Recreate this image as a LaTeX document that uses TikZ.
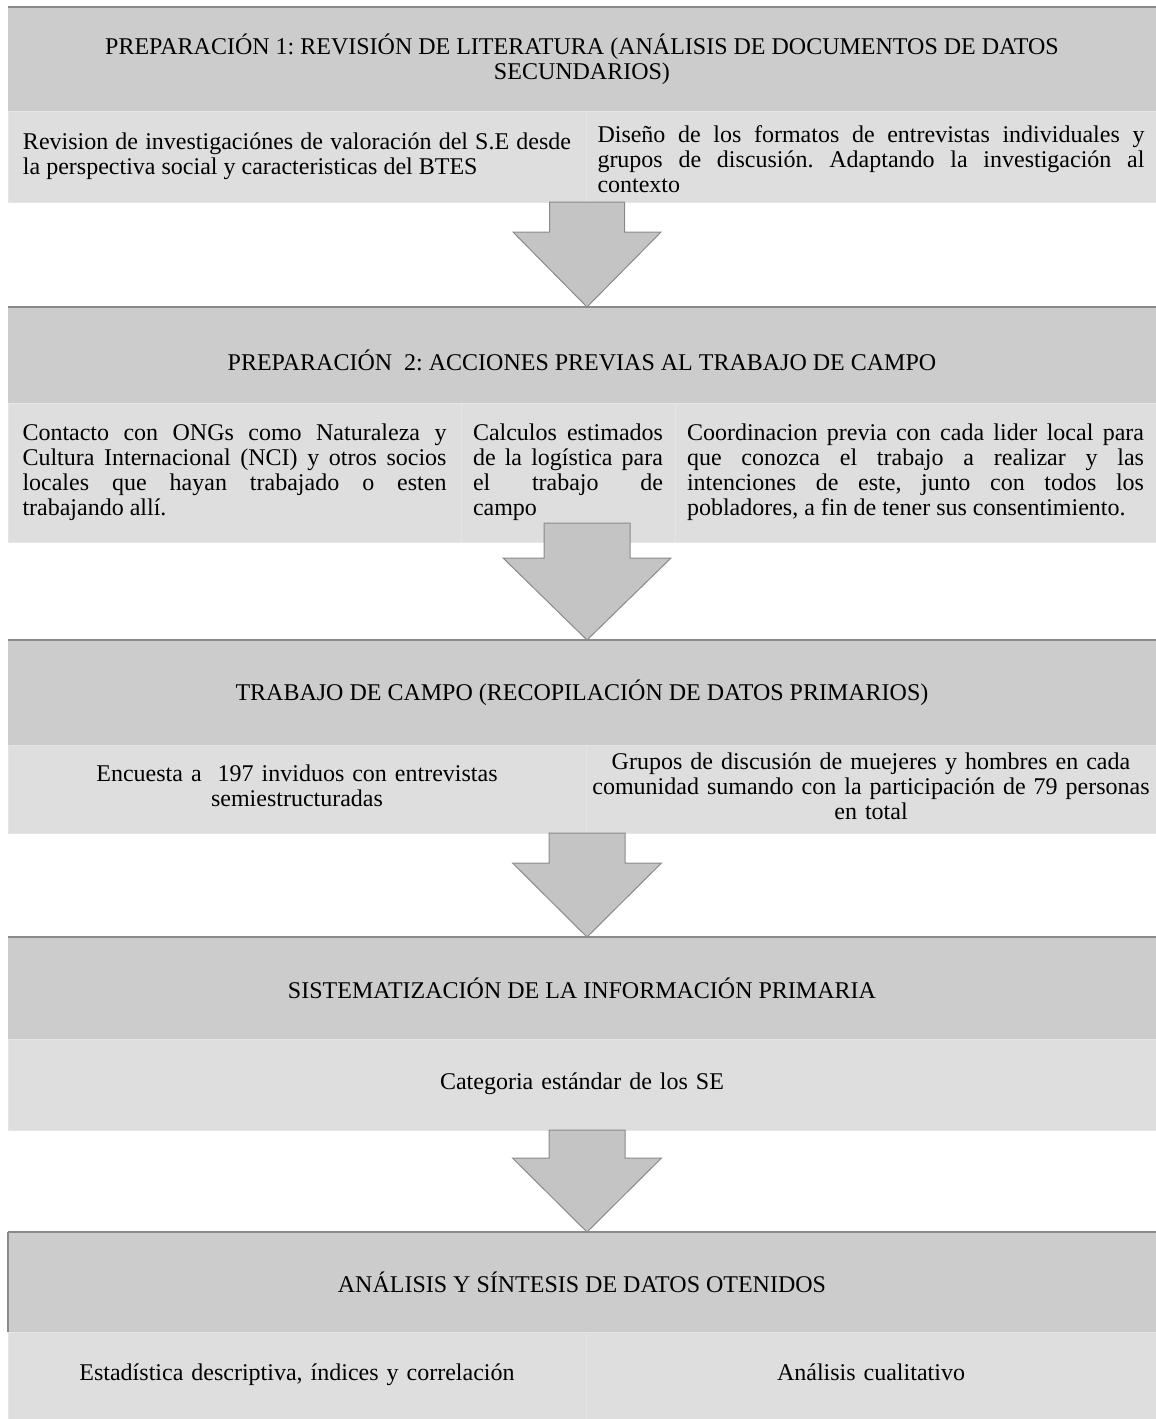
\documentclass[tikz,border=0pt]{standalone}
\usepackage{fontspec}
\setmainfont{Liberation Serif}
\usetikzlibrary{positioning,calc}
\definecolor{clHead}{HTML}{CCCCCC}
\definecolor{clBody}{HTML}{DEDEDE}
\definecolor{clSeam}{HTML}{E5E5E5}
\definecolor{clArrow}{HTML}{C4C4C4}
\definecolor{clEdge}{HTML}{8A8A8A}
\newcommand{\cellfont}{\fontsize{24}{25}\selectfont\frenchspacing\hyphenpenalty=10000\tolerance=10000\hbadness=10000}
% block arrow: start, target node, head length, shaft half width, head half width
\newcommand{\flowarrow}[5]{%
  \draw[blockarrow]
    ($(#1 -| axis)+(-#4,0)$) -- ($(#2.north -| axis)+(-#4,-#3)$)
    -- ($(#2.north -| axis)+(-#5,-#3)$) -- (#2.north -| axis)
    -- ($(#2.north -| axis)+(#5,-#3)$) -- ($(#2.north -| axis)+(#4,-#3)$)
    -- ($(#1 -| axis)+(#4,0)$) -- cycle;}
\tikzset{
  stage/.style={rectangle, fill=clHead, minimum width=1148pt, inner sep=0pt,
                outer sep=0pt, align=center, font=\cellfont},
  cell/.style={rectangle, fill=clBody, draw=clSeam, line width=0.8pt, inner sep=0pt,
               outer sep=0pt, align=justify, font=\cellfont,
               execute at begin node=\strut, execute at end node=\strut},
  cellmid/.style={cell, align=center},
  stageline/.style={draw=clEdge, line width=1.2pt},
  blockarrow/.style={fill=clArrow, draw=clEdge, line width=1pt, line join=miter},
}
\begin{document}
\begin{tikzpicture}[x=1pt, y=-1pt]
  \useasboundingbox (0,0) rectangle (1156,1419);
  \coordinate (axis) at (587,0);

  % preparacion 1
  \node[stage, minimum height=104pt, anchor=north west] (h1) at (8,7)
    {PREPARACIÓN 1: REVISIÓN DE LITERATURA (ANÁLISIS DE DOCUMENTOS DE DATOS\\ SECUNDARIOS)};
  \node[cell, minimum width=578pt, minimum height=91pt, text width=548pt,
        below right=0pt of h1.south west] (c11)
    {Revision de investigaciónes de valoración del S.E desde\linebreak la perspectiva social y caracteristicas del BTES};
  \node[cell, minimum width=570pt, minimum height=91pt, text width=547pt,
        execute at begin node={\rule{0pt}{29.5pt}}, right=0pt of c11] (c12)
    {Diseño de los formatos de entrevistas individuales y\linebreak grupos de discusión. Adaptando la investigación al\linebreak contexto};

  % preparacion 2
  \node[stage, minimum height=96pt, text height=32pt, anchor=north west] (h2) at (8,307)
    {PREPARACIÓN\ \ 2: ACCIONES PREVIAS AL TRABAJO DE CAMPO};
  \node[cell, minimum width=453pt, minimum height=139pt, text width=424pt,
        below right=0pt of h2.south west] (c21)
    {Contacto con ONGs como Naturaleza y\linebreak Cultura Internacional (NCI) y otros socios\linebreak locales que hayan trabajado o esten\linebreak trabajando allí.};
  \node[cell, minimum width=214pt, minimum height=139pt, text width=190pt,
        right=0pt of c21] (c22)
    {Calculos estimados\linebreak de la logística para\linebreak el trabajo de\linebreak campo};
  \node[cell, minimum width=481pt, minimum height=139pt, text width=457pt,
        right=0pt of c22] (c23)
    {Coordinacion previa con cada lider local para\linebreak que conozca el trabajo a realizar y las\linebreak intenciones de este, junto con todos los\linebreak pobladores, a fin de tener sus consentimiento.};
  \coordinate (cut2) at ($(c21.south)+(0,-19)$);

  % trabajo de campo
  \node[stage, minimum height=105pt, anchor=north west] (h3) at (8,640)
    {TRABAJO DE CAMPO (RECOPILACIÓN DE DATOS PRIMARIOS)};
  \node[cellmid, minimum width=578pt, minimum height=88pt, text width=548pt,
        below right=0pt of h3.south west] (c31)
    {Encuesta a\ \ 197 inviduos con entrevistas\\ semiestructuradas};
  \node[cellmid, minimum width=570pt, minimum height=88pt, text width=562pt,
        right=0pt of c31] (c32)
    {Grupos de discusión de muejeres y hombres en cada\\ comunidad sumando con la participación de 79 personas\\ en total};

  % sistematizacion
  \node[stage, minimum height=102pt, anchor=north west] (h4) at (8,937)
    {SISTEMATIZACIÓN DE LA INFORMACIÓN PRIMARIA};
  \node[cellmid, minimum width=1148pt, minimum height=91pt, text width=1100pt,
        below right=0pt of h4.south west] (c41)
    {Categoria estándar de los SE};

  % analisis
  \node[stage, minimum height=100pt, anchor=north west] (h5) at (8,1232)
    {ANÁLISIS Y SÍNTESIS DE DATOS OTENIDOS};
  \node[cellmid, minimum width=578pt, minimum height=87pt, text width=548pt,
        below right=0pt of h5.south west] (c51)
    {Estadística descriptiva, índices y correlación};
  \node[cellmid, minimum width=570pt, minimum height=87pt, text width=540pt,
        right=0pt of c51] (c52)
    {Análisis cualitativo};

  \foreach \h in {h1,h2,h3,h4,h5}
    \draw[stageline] (\h.north west) -- (\h.north east);
  \draw[stageline] (h5.north west) -- (h5.south west);

  \flowarrow{c11.south}{h2}{75}{37.5}{74}
  \flowarrow{cut2}{h3}{82}{43}{84}
  \flowarrow{c31.south}{h4}{74}{38}{74.5}
  \flowarrow{c41.south}{h5}{74}{38}{74.5}
\end{tikzpicture}
\end{document}
